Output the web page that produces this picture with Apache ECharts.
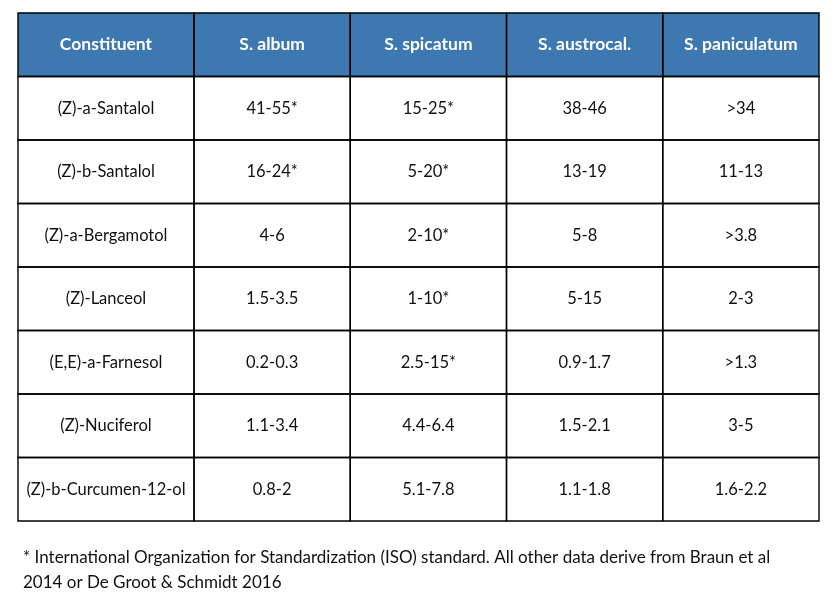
<!DOCTYPE html>
<html style="height: 100%">
<head>
	<meta charset="utf-8">
	<script type="text/javascript" src="https://cdn.jsdelivr.net/npm/echarts@6/dist/echarts.min.js"></script>
</head>
<body style="height: 100%; margin: 0; background: #fff">
	<div id="container" style="width: 836px; height: 605px"></div>
	<script>
	// table content
	var headers = ['Constituent', 'S. album', 'S. spicatum', 'S. austrocal.', 'S. paniculatum'];
	var constituents = ['(Z)-a-Santalol', '(Z)-b-Santalol', '(Z)-a-Bergamotol', '(Z)-Lanceol',
		'(E,E)-a-Farnesol', '(Z)-Nuciferol', '(Z)-b-Curcumen-12-ol'];
	var album = ['41-55*', '16-24*', '4-6', '1.5-3.5', '0.2-0.3', '1.1-3.4', '0.8-2'];
	var spicatum = ['15-25*', '5-20*', '2-10*', '1-10*', '2.5-15*', '4.4-6.4', '5.1-7.8'];
	var austrocal = ['38-46', '13-19', '5-8', '5-15', '0.9-1.7', '1.5-2.1', '1.1-1.8'];
	var paniculatum = ['>34', '11-13', '>3.8', '2-3', '>1.3', '3-5', '1.6-2.2'];
	var footnote = '* International Organization for Standardization (ISO) standard. All other data derive from Braun et al\n2014 or De Groot & Schmidt 2016';

	var rows = ['header'].concat(constituents);
	var species = [album, spicatum, austrocal, paniculatum];

	// cells as [col, row, text]
	var nameCells = [[0, 0, headers[0]]];
	constituents.forEach(function (c, i) { nameCells.push([0, i + 1, c]); });
	var valueCells = [];
	species.forEach(function (list, j) {
		valueCells.push([j, 0, headers[j + 1]]);
		list.forEach(function (v, i) { valueCells.push([j, i + 1, v]); });
	});

	var FONT = 'Lato, "DejaVu Sans", sans-serif';

	function cellRenderer(cells) {
		return function (params, api) {
			var cell = cells[params.dataIndex];
			var p = api.coord([cell[0], cell[1]]);
			var s = api.size([1, 1]);
			var head = cell[1] === 0;
			var x = p[0] - s[0] / 2, y = p[1] - s[1] / 2;
			return {
				type: 'group',
				children: [
					{ type: 'rect', z2: 0, shape: { x: x, y: y, width: s[0], height: s[1] },
						style: { fill: head ? '#3d78b0' : '#fff' } },
					{ type: 'rect', z2: 10, shape: { x: x, y: y, width: s[0], height: s[1] },
						style: { fill: 'none', stroke: '#000', lineWidth: 1.4 } },
					{ type: 'text', z2: 5, x: p[0], y: p[1],
						style: { text: cell[2], fill: head ? '#fff' : '#111', align: 'center', verticalAlign: 'middle',
							fontFamily: FONT, fontSize: head ? 17.5 : 16.5, fontWeight: head ? 'bold' : 'normal' } }
				]
			};
		};
	}

	var myChart = echarts.init(document.getElementById('container'));
	var option = {
		animation: false,
		grid: [
			{ left: 18, top: 13, width: 176, bottom: 84 },
			{ left: 194, top: 13, right: 17, bottom: 84 }
		],
		xAxis: [
			{ gridIndex: 0, type: 'category', data: headers.slice(0, 1), show: false },
			{ gridIndex: 1, type: 'category', data: headers.slice(1), show: false }
		],
		yAxis: [
			{ gridIndex: 0, type: 'category', data: rows, inverse: true, show: false },
			{ gridIndex: 1, type: 'category', data: rows, inverse: true, show: false }
		],
		series: [
			{ type: 'custom', xAxisIndex: 0, yAxisIndex: 0, renderItem: cellRenderer(nameCells),
				data: nameCells.map(function (c) { return [c[0], c[1]]; }) },
			{ type: 'custom', xAxisIndex: 1, yAxisIndex: 1, renderItem: cellRenderer(valueCells),
				data: valueCells.map(function (c) { return [c[0], c[1]]; }) }
		],
		graphic: [{
			type: 'text', left: 23, top: 545,
			style: { text: footnote, fill: '#111', fontFamily: FONT, fontSize: 17, lineHeight: 25 }
		}]
	};
	myChart.setOption(option, true);
	</script>
</body>
</html>
